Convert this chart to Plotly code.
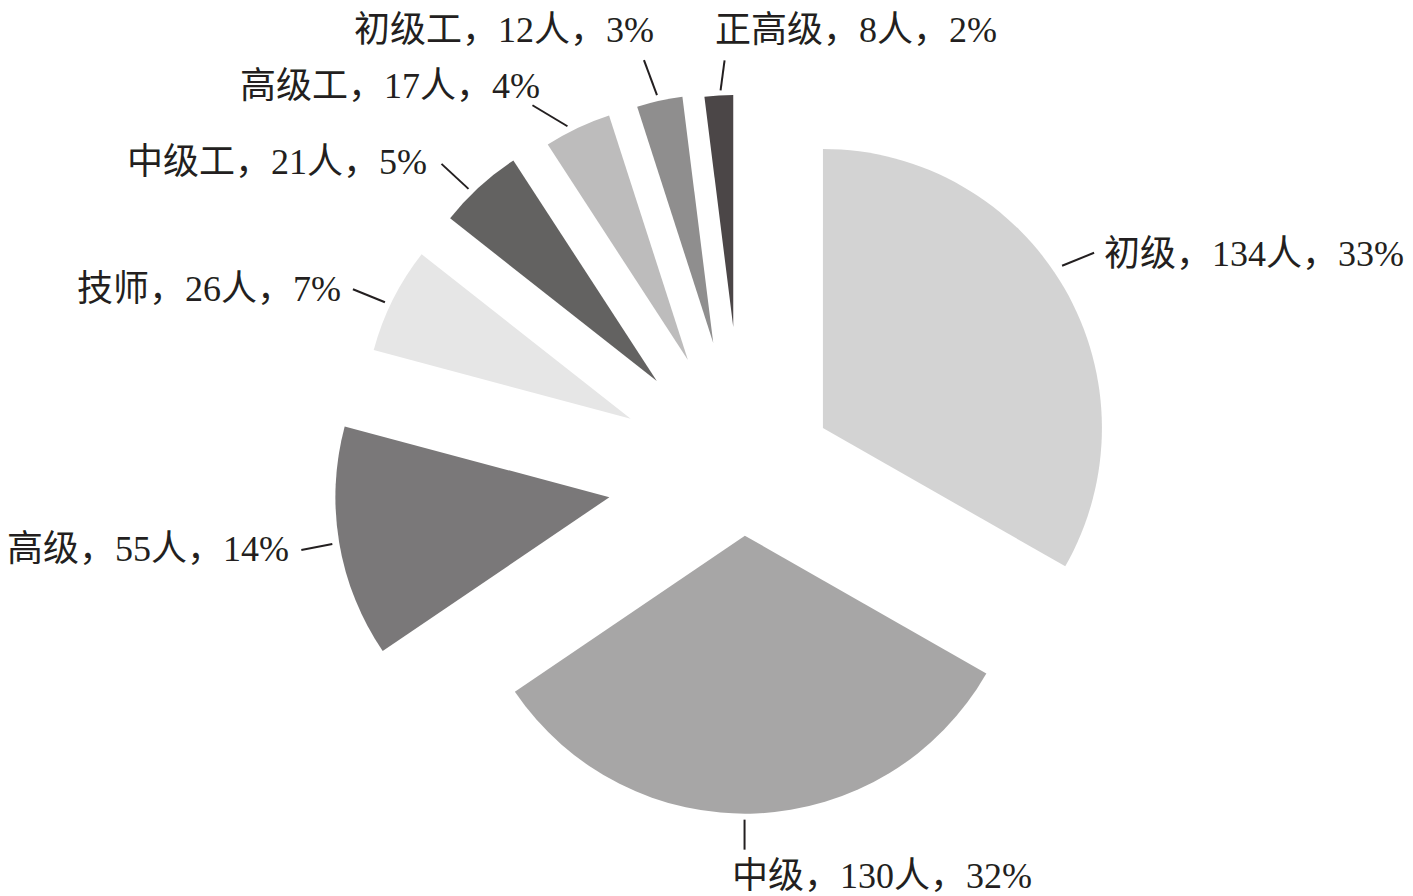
import math
import plotly.graph_objects as go

# ---- data ----
categories = ['初级', '中级', '高级', '技师', '中级工', '高级工', '初级工', '正高级']
counts = [134, 130, 55, 26, 21, 17, 12, 8]
pct_labels = [33, 32, 14, 7, 5, 4, 3, 2]

# ---- styles ----
colors = ['#d3d3d3', '#a7a6a6', '#7a7879', '#e6e6e6', '#636261', '#bdbcbc', '#8f8e8e', '#4b4647']
W, H = 1413, 896
center = (742.5, 474.7)                     # px, un-exploded pie centre
explode_px = [93, 61, 135, 125, 127, 127, 135, 148]
radius_px = [279, 278, 274, 266, 263, 257, 248, 232]
lead_gap = [10, 6, 7, 6, 6, 6, 6, 5]
lead_angle_off = [-4, 2.3, 0, -1.2, -2, -1.8, -0.3, 0.5]
lead_vec = [(32, -13), (0, 30), (-31, 6), (-32, -13), (-27, -25), (-35, -21), (-13, -35), (4, -30)]
label_off = [(8, 1), (-15, 26), (-10, -1), (-10, 0), (-12, -2), (10, -19), (12, -30), (-12, -30)]
label_anchor = ['left', 'left', 'right', 'right', 'right', 'right', 'right', 'left']
font_family = 'Liberation Serif, Times New Roman, Noto Sans CJK SC, serif'
text_color = '#231f20'

total = sum(counts)
fig = go.Figure()


def px2paper(x, y):
    return x / W, 1 - y / H


cum = 0.0
shapes = []
annotations = []
for i, (cat, v) in enumerate(zip(categories, counts)):
    a0 = cum / total * 360
    cum += v
    a1 = cum / total * 360
    mid = math.radians((a0 + a1) / 2)
    ux, uy = math.sin(mid), -math.cos(mid)
    tx = center[0] + explode_px[i] * ux
    ty = center[1] + explode_px[i] * uy
    R = radius_px[i]
    slice_colors = ['rgba(0,0,0,0)'] * len(counts)
    slice_colors[i] = colors[i]
    fig.add_trace(go.Pie(
        labels=categories, values=counts, sort=False, direction='clockwise', rotation=0,
        marker=dict(colors=slice_colors, line=dict(width=0)),
        textinfo='none', hoverinfo='skip', showlegend=False,
        domain=dict(x=[(tx - R) / W, (tx + R) / W], y=[1 - (ty + R) / H, 1 - (ty - R) / H]),
    ))
    # leader line
    la = mid + math.radians(lead_angle_off[i])
    hx = tx + (R + lead_gap[i]) * math.sin(la)
    hy = ty - (R + lead_gap[i]) * math.cos(la)
    ex, ey = hx + lead_vec[i][0], hy + lead_vec[i][1]
    x0, y0 = px2paper(hx, hy)
    x1, y1 = px2paper(ex, ey)
    shapes.append(dict(type='line', xref='paper', yref='paper', x0=x0, y0=y0, x1=x1, y1=y1,
                       line=dict(color=text_color, width=2)))
    lx, ly = px2paper(ex + label_off[i][0], ey + label_off[i][1])
    annotations.append(dict(
        x=lx, y=ly, xref='paper', yref='paper', showarrow=False,
        xanchor=label_anchor[i], yanchor='middle',
        text=f'{cat}，{v}人，{pct_labels[i]}%',
        font=dict(family=font_family, size=36, color=text_color),
    ))

fig.update_layout(
    width=W, height=H,
    margin=dict(l=0, r=0, t=0, b=0),
    paper_bgcolor='white', plot_bgcolor='white',
    shapes=shapes, annotations=annotations,
)

fig.write_html('out.html', config={'displayModeBar': False},
               post_script="document.body.style.margin='0';document.body.style.overflow='hidden';")
